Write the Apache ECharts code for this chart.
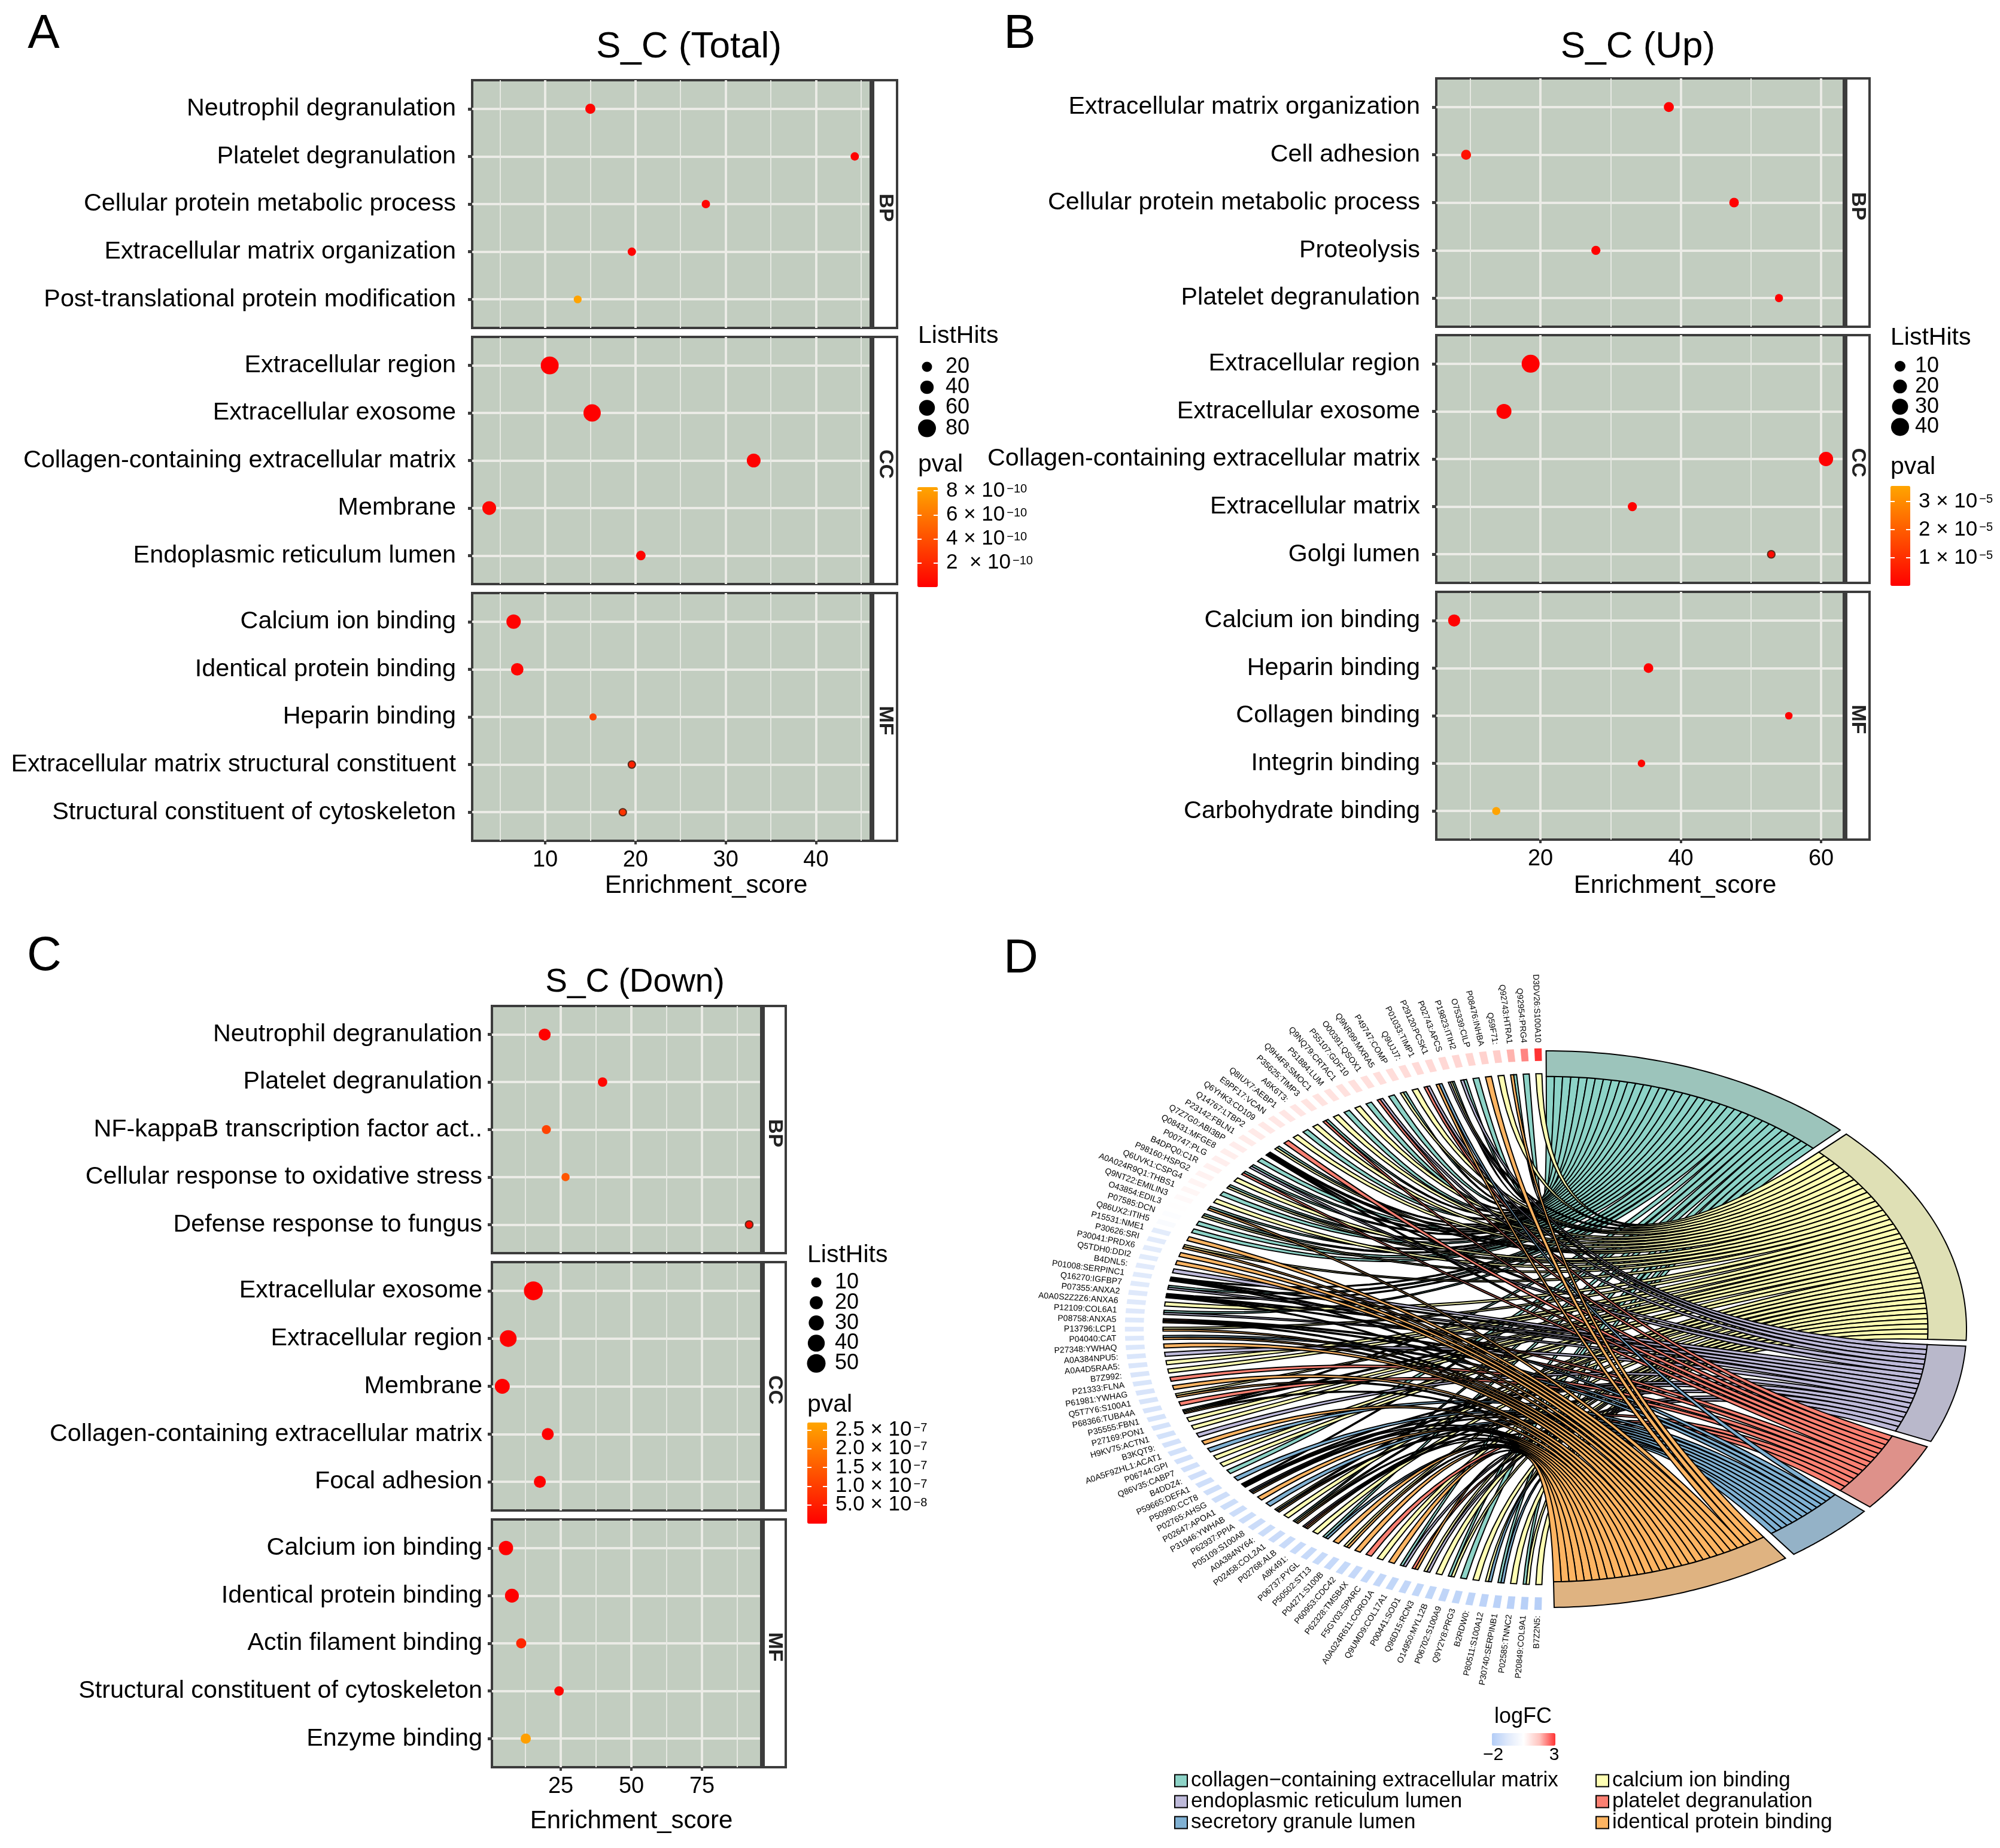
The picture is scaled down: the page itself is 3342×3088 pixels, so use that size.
<!DOCTYPE html>
<html><head><meta charset="utf-8">
<style>html,body{margin:0;padding:0;background:#fff}#c{width:3342px;height:3088px}</style>
<script src="https://cdn.jsdelivr.net/npm/echarts@6/dist/echarts.min.js"></script>
</head><body><div id="c"></div>
<script>
// ---------- Panel A ----------
const A_terms = ['Neutrophil degranulation','Platelet degranulation','Cellular protein metabolic process','Extracellular matrix organization','Post-translational protein modification','Extracellular region','Extracellular exosome','Collagen-containing extracellular matrix','Membrane','Endoplasmic reticulum lumen','Calcium ion binding','Identical protein binding','Heparin binding','Extracellular matrix structural constituent','Structural constituent of cytoskeleton'];
const A_score = [15.0,44.3,27.8,19.6,13.6,10.5,15.2,33.1,3.8,20.6,6.5,6.9,15.3,19.6,18.6];
const A_hits  = [20,12,12,12,10,80,74,43,43,17,48,34,8,8,8];
const A_pval  = [2e-11,1e-11,2e-11,1e-11,8.2e-10,1e-12,2e-12,1e-12,3e-11,2e-11,1e-11,2e-11,3.2e-10,1.6e-10,2.6e-10];
const A_rim   = ['Extracellular matrix structural constituent','Structural constituent of cytoskeleton'];
const A_ticks = [10,20,30,40], A_minor = [5,15,25,35,45];
const A_hitLegend = [20,40,60,80];
const A_pTicks = [2e-10,4e-10,6e-10,8e-10];
const A_pLabels = ['2  × 10','4 × 10','6 × 10','8 × 10'], A_pExp = '−10';
// ---------- Panel B ----------
const B_terms = ['Extracellular matrix organization','Cell adhesion','Cellular protein metabolic process','Proteolysis','Platelet degranulation','Extracellular region','Extracellular exosome','Collagen-containing extracellular matrix','Extracellular matrix','Golgi lumen','Calcium ion binding','Heparin binding','Collagen binding','Integrin binding','Carbohydrate binding'];
const B_score = [38.3,9.4,47.6,27.9,54.0,18.6,14.8,60.7,33.1,52.9,7.7,35.4,55.4,34.4,13.7];
const B_hits  = [8,8,7,6,4,40,25,22,6,3,14,7,3,3,4];
const B_pval  = [1e-7,4e-6,1e-7,5e-7,1e-7,1e-9,1e-8,1e-10,2e-7,2e-6,3e-7,1e-7,2e-7,1e-6,3.5e-5];
const B_rim   = ['Golgi lumen'];
const B_ticks = [20,40,60], B_minor = [10,30,50];
const B_hitLegend = [10,20,30,40];
const B_pTicks = [1e-5,2e-5,3e-5];
const B_pLabels = ['1 × 10','2 × 10','3 × 10'], B_pExp = '−5';
// ---------- Panel C ----------
const C_terms = ['Neutrophil degranulation','Platelet degranulation','NF-kappaB transcription factor act..','Cellular response to oxidative stress','Defense response to fungus','Extracellular exosome','Extracellular region','Membrane','Collagen-containing extracellular matrix','Focal adhesion','Calcium ion binding','Identical protein binding','Actin filament binding','Structural constituent of cytoskeleton','Enzyme binding'];
const C_score = [19.3,39.8,19.9,26.7,91.7,15.3,6.4,4.3,20.4,17.6,5.6,7.7,11.0,24.4,12.6];
const C_hits  = [16,8,7,5,4,52,39,29,16,16,26,24,10,8,10];
const C_pval  = [1e-9,1e-8,1.1e-7,1.4e-7,2e-8,1e-10,1e-9,1e-9,1e-9,3e-9,1e-9,1e-9,6e-8,1e-8,2.6e-7];
const C_rim   = ['Defense response to fungus'];
const C_ticks = [25,50,75], C_minor = [12.5,37.5,62.5,87.5];
const C_hitLegend = [10,20,30,40,50];
const C_pTicks = [5e-8,1e-7,1.5e-7,2e-7,2.5e-7];
const C_pLabels = ['5.0 × 10','1.0 × 10','1.5 × 10','2.0 × 10','2.5 × 10'], C_pExps = ['−8','−7','−7','−7','−7'];
const facetNames = ['BP','CC','MF'];
// ---------- Panel D ----------
const chordTerms = ['collagen−containing extracellular matrix','calcium ion binding','endoplasmic reticulum lumen','platelet degranulation','secretory granule lumen','identical protein binding'];
const termLetters = ['T','Y','L','R','B','O'];
const genes = ['D3DV26:S100A10','Q92954:PRG4','Q92743:HTRA1','Q59F71:','P08476:INHBA','O75339:CILP','P19823:ITIH2','P02743:APCS','P29120:PCSK1','P01033:TIMP1','Q9UJJ7:','P49747:COMP','Q9NR99:MXRA5','O00391:QSOX1','P55107:GDF10','Q9NQ79:CRTAC1','P51884:LUM','Q9H4F8:SMOC1','P35625:TIMP3','A6K6T3:','Q8IUX7:AEBP1','E9PF17:VCAN','Q6YHK3:CD109','Q14767:LTBP2','P23142:FBLN1','Q7Z7G0:ABI3BP','Q08431:MFGE8','P00747:PLG','B4DPQ0:C1R','P98160:HSPG2','Q6UVK1:CSPG4','A0A024R9Q1:THBS1','Q9NT22:EMILIN3','O43854:EDIL3','P07585:DCN','Q86UX2:ITIH5','P15531:NME1','P30626:SRI','P30041:PRDX6','Q5TDH0:DDI2','B4DNL5:','P01008:SERPINC1','Q16270:IGFBP7','P07355:ANXA2','A0A0S2Z2Z6:ANXA6','P12109:COL6A1','P08758:ANXA5','P13796:LCP1','P04040:CAT','P27348:YWHAQ','A0A384NPU5:','A0A4D5RAA5:','B7Z992:','P21333:FLNA','P61981:YWHAG','Q5T7Y6:S100A1','P68366:TUBA4A','P35555:FBN1','P27169:PON1','H9KV75:ACTN1','B3KQT9:','A0A5F9ZHL1:ACAT1','P06744:GPI','Q86V35:CABP7','B4DDZ4:','P59665:DEFA1','P50990:CCT8','P02765:AHSG','P02647:APOA1','P31946:YWHAB','P62937:PPIA','P05109:S100A8','A0A384NY64:','P02458:COL2A1','P02768:ALB','A8K491:','P06737:PYGL','P50502:ST13','P04271:S100B','P60953:CDC42','P62328:TMSB4X','F5GY03:SPARC','A0A024R611:CORO1A','Q9UMD9:COL17A1','P00441:SOD1','Q96D15:RCN3','O14950:MYL12B','P06702:S100A9','Q9Y2Y8:PRG3','B2RDW0:','P80511:S100A12','P30740:SERPINB1','P02585:TNNC2','P20849:COL9A1','B7Z2N5:'];
const geneTerms = ['Y','T','TO','Y','O','T','TL','TYL','BO','LR','Y','TY','T','LR','T','Y','T','Y','TR','Y','T','Y','R','TY','TYLR','T','TL','TR','Y','TY','T','Y','TO','TY','T','T','O','YO','O','O','L','TLBO','TL','TLRO','Y','TL','RBO','YO','BO','O','L','Y','Y','R','O','YO','R','TYO','Y','Y','L','O','B','Y','Y','T','B','TLBO','LBO','O','B','YBO','Y','TYO','LRO','Y','TB','O','YO','O','R','Y','O','TL','RO','YL','Y','TY','T','Y','YB','TB','Y','TY','Y'];
const logFC = [3.0,2.3,1.9,1.55,1.45,1.4,1.36,1.33,1.3,1.28,1.25,1.22,1.2,1.18,1.16,1.14,1.12,1.1,1.08,1.05,1.03,1.0,0.98,0.95,0.92,0.9,0.87,0.85,0.82,0.78,0.74,0.7,0.62,0.52,0.4,0.25,
 -0.6,-0.62,-0.64,-0.66,-0.68,-0.7,-0.72,-0.74,-0.76,-0.78,-0.8,-0.82,-0.84,-0.86,-0.88,-0.9,-0.92,-0.94,-0.96,-0.98,-1.0,-1.02,-1.05,-1.08,-1.1,-1.12,-1.14,-1.16,-1.18,-1.2,-1.22,-1.24,-1.26,-1.28,-1.3,-1.32,-1.34,-1.36,-1.38,-1.4,-1.42,-1.44,-1.46,-1.48,-1.5,-1.52,-1.54,-1.56,-1.58,-1.6,-1.62,-1.64,-1.66,-1.68,-1.72,-1.76,-1.8,-1.85,-1.9];
const logFCTicks = ['−2','3'];

// ---------- styling and assembly ----------
const FONT = 'Liberation Sans';
const ribbonColors = ['#8dd3c7','#ffffb3','#bebada','#fb8072','#80b1d3','#fdb462'];
const termBarColors = ['#9cc4bb','#dfe0b5','#b9b8cb','#de918a','#94b2c7','#dfb381'];
const grid = [], xAxis = [], yAxis = [], series = [], visualMap = [], graphic = [];
const DARK = '#3c3c3c';
function txt(s, x, y, size, o) {
  o = o || {};
  graphic.push({type:'text', x, y, z:100, rotation:o.rot||0, silent:true, style:{text:s, fontSize:size, fontFamily:FONT, fontWeight:o.bold?'bold':'normal', fill:o.fill||'#000', align:o.align||'center', verticalAlign:'middle', textAlign:o.align||'center', textVerticalAlign:'middle'}});
}
function panel(cfg) {
  const scatterIdx = [];
  cfg.rows.forEach((r, f) => {
    const g = grid.length;
    grid.push({left:cfg.left, top:r[0], width:cfg.right-cfg.left, height:r[1]-r[0], show:true, backgroundColor:'#c2cdc0', borderColor:DARK, borderWidth:4});
    const last = f === 2;
    const xi = xAxis.length;
    xAxis.push({gridIndex:g, type:'value', position:'bottom', min:cfg.xmin, max:cfg.xmax, axisLine:{show:false, onZero:false},
      axisTick:{show:last, customValues:cfg.ticks, length:6, lineStyle:{color:DARK, width:4}},
      axisLabel:{show:last, customValues:cfg.ticks, fontSize:38, color:'#000', margin:14, fontFamily:FONT},
      splitLine:{show:true, lineStyle:{color:'#ebebe6', width:4}}});
    xAxis.push({gridIndex:g, type:'value', position:'bottom', min:cfg.xmin, max:cfg.xmax, axisLine:{show:false, onZero:false},
      axisTick:{show:false, customValues:cfg.minor}, axisLabel:{show:false},
      splitLine:{show:true, lineStyle:{color:'#e6e8e2', width:2}}});
    const yi = yAxis.length;
    const names = cfg.terms.slice(f*5, f*5+5);
    yAxis.push({gridIndex:g, type:'value', inverse:true, min:-0.6, max:4.6, axisLine:{show:false, onZero:false},
      axisTick:{show:true, customValues:[0,1,2,3,4], length:7, lineStyle:{color:DARK, width:5}},
      axisLabel:{customValues:[0,1,2,3,4], fontSize:41.3, color:'#000', margin:cfg.ylabMargin, fontFamily:FONT, padding:[0,0,10,0], formatter:v=>names[v]},
      splitLine:{show:true, lineStyle:{color:'#ebebe6', width:4}}});
    scatterIdx.push(series.length);
    series.push({type:'scatter', xAxisIndex:xi, yAxisIndex:yi, z:5, itemStyle:{opacity:1},
      symbolSize:v=>cfg.sz[0]*Math.sqrt(v[2])+cfg.sz[1],
      data:names.map((n,i)=>{
        const j=f*5+i, d={value:[cfg.score[j],i,cfg.hits[j],cfg.pval[j]]};
        if(cfg.rim.includes(n)) d.itemStyle={borderColor:'#5a2a1a',borderWidth:2,opacity:1};
        return d;
      })});
    // strip
    graphic.push({type:'rect', z:20, silent:true, shape:{x:cfg.right, y:r[0], width:cfg.stripRight-cfg.right, height:r[1]-r[0]}, style:{fill:'#fff', stroke:DARK, lineWidth:4}});
    graphic.push({type:'rect', z:21, silent:true, shape:{x:cfg.right-1, y:r[0], width:7, height:r[1]-r[0]}, style:{fill:DARK}});
    txt(facetNames[f], (cfg.right+6+cfg.stripRight)/2-1, (r[0]+r[1])/2+6, 34, {bold:true, rot:-Math.PI/2, fill:'#222'});
  });
  txt(cfg.title[0], cfg.title[1], cfg.title[2], cfg.title[3]);
  txt(cfg.letter[0], cfg.letter[1], cfg.letter[2], 80);
  txt('Enrichment_score', cfg.name[0], cfg.name[1], 42);
  // size legend
  const L = cfg.legend;
  txt('ListHits', L.x, L.titleY, 41, {align:'left'});
  const lg = grid.length, n = cfg.hitLegend.length, h = L.step*n;
  grid.push({left:L.cx-17, width:34, top:L.y0-L.step/2, height:h});
  const lx = xAxis.length;
  xAxis.push({gridIndex:lg, type:'value', min:0, max:1, show:false});
  const ly = yAxis.length;
  yAxis.push({gridIndex:lg, type:'category', inverse:true, position:'right', data:cfg.hitLegend.map(String),
    axisLine:{show:false}, axisTick:{show:false}, axisLabel:{interval:0, fontSize:36, color:'#000', margin:L.lab-(L.cx+17), fontFamily:FONT}});
  series.push({type:'scatter', xAxisIndex:lx, yAxisIndex:ly, itemStyle:{color:'#000', opacity:1},
    symbolSize:v=>cfg.sz[0]*Math.sqrt(v[2])+cfg.sz[1],
    data:cfg.hitLegend.map((v,i)=>[0.5,i,v])});
  // pval colour bar
  const P = cfg.pbar;
  txt('pval', L.x, P.titleY, 41, {align:'left'});
  visualMap.push({type:'continuous', seriesIndex:scatterIdx, dimension:3, min:0, max:P.max, calculable:false, hoverLink:false,
    inRange:{color:['#ff0000','#ffa500']}, left:P.x0, top:P.y0, itemWidth:P.x1-P.x0, itemHeight:P.y1-P.y0, padding:0, text:null, orient:'vertical'});
  const fmt = v => { const k = cfg.pTicks.findIndex(t=>Math.abs(t-v)<t*1e-6); return '{a|'+cfg.pLabels[k]+'}{b|'+(cfg.pExps?cfg.pExps[k]:cfg.pExp)+'}'; };
  // alternate labels sit on two overlaid axes so that tightly spaced labels all show
  [0,1].forEach(pass => {
    const sub = cfg.pTicks.filter((t,i)=>i%2===pass);
    const pg = grid.length;
    grid.push({left:P.x0, width:P.x1-P.x0, top:P.y0, height:P.y1-P.y0});
    const px = xAxis.length;
    xAxis.push({gridIndex:pg, type:'value', min:0, max:1, show:false});
    const right = yAxis.length;
    yAxis.push({gridIndex:pg, type:'value', min:0, max:P.max, position:'right', z:10, axisLine:{show:false, onZero:false}, splitLine:{show:false},
      axisTick:{show:true, inside:true, length:7, customValues:sub, lineStyle:{color:'#fff', width:2}},
      axisLabel:{customValues:sub, margin:14, formatter:fmt, color:'#000', showMinLabel:true, showMaxLabel:true, hideOverlap:false,
        rich:{a:{fontSize:35, color:'#000', fontFamily:FONT, lineHeight:26}, b:{fontSize:20, color:'#000', fontFamily:FONT, verticalAlign:'top', lineHeight:14, padding:[0,0,0,3]}}}});
    yAxis.push({gridIndex:pg, type:'value', min:0, max:P.max, position:'left', z:10, axisLine:{show:false, onZero:false}, splitLine:{show:false},
      axisTick:{show:true, inside:true, length:7, customValues:sub, lineStyle:{color:'#fff', width:2}},
      axisLabel:{show:false}});
    series.push({type:'scatter', xAxisIndex:px, yAxisIndex:right, data:[], silent:true});
  });
}
const rowsA=[[134,548],[563,976],[991,1405]], rowsB=[[131,546],[560,974],[989,1403]], rowsC=[[1681,2094],[2109,2524],[2539,2953]];
panel({terms:A_terms,score:A_score,hits:A_hits,pval:A_pval,rim:A_rim,ticks:A_ticks,minor:A_minor,hitLegend:A_hitLegend,pTicks:A_pTicks,pLabels:A_pLabels,pExp:A_pExp,
  left:789,right:1455,stripRight:1499,rows:rowsA,xmin:1.91,xmax:46.07,ylabMargin:27,sz:[2.9,4],
  title:['S_C (Total)',1151,79,62],letter:['A',73,58],name:[1180,1480],
  legend:{x:1534,titleY:562,cx:1549,lab:1580,y0:613,step:34.2},
  pbar:{titleY:777,x0:1533,x1:1567,y0:814,y1:981,max:8.3e-10}});
panel({terms:B_terms,score:B_score,hits:B_hits,pval:B_pval,rim:B_rim,ticks:B_ticks,minor:B_minor,hitLegend:B_hitLegend,pTicks:B_pTicks,pLabels:B_pLabels,pExp:B_pExp,
  left:2400,right:3081,stripRight:3124,rows:rowsB,xmin:5.15,xmax:63.24,ylabMargin:27,sz:[3.8,6],
  title:['S_C (Up)',2737,79,62],letter:['B',1704,58],name:[2799,1480],
  legend:{x:3159,titleY:565,cx:3175,lab:3200,y0:612,step:33.8},
  pbar:{titleY:781,x0:3159,x1:3192,y0:812,y1:979,max:3.55e-5}});
panel({terms:C_terms,score:C_score,hits:C_hits,pval:C_pval,rim:C_rim,ticks:C_ticks,minor:C_minor,hitLegend:C_hitLegend,pTicks:C_pTicks,pLabels:C_pLabels,pExps:C_pExps,
  left:822,right:1272,stripRight:1313,rows:rowsC,xmin:0.63,xmax:95.97,ylabMargin:16,sz:[3.58,5.7],
  title:['S_C (Down)',1061,1642,55],letter:['C',74,1599],name:[1055,3043],
  legend:{x:1349,titleY:2098,cx:1364,lab:1395,y0:2143,step:33.8},
  pbar:{titleY:2348,x0:1349,x1:1382,y0:2377,y1:2546,max:2.7e-7}});
txt('D', 1706, 1603, 80);

// chord: normalised unit circle laid out through a hidden cartesian grid (ellipse on screen)
const cx=2586, cy=2221, rx=700, ry=465, XR=1.07, YR=1.2;
const dg = grid.length;
grid.push({left:cx-XR*rx, width:2*XR*rx, top:cy-YR*ry, height:2*YR*ry});
const dx = xAxis.length, dy = yAxis.length;
xAxis.push({gridIndex:dg, type:'value', min:-XR, max:XR, show:false});
yAxis.push({gridIndex:dg, type:'value', min:-YR, max:YR, show:false});
const RAD=Math.PI/180, R_GENE=0.918, R_TERM=0.908;
const gTh = i => 1.3 + i*(177.4/(genes.length-1));
const G_W = 0.9;
const ptG = (th,r)=>[-Math.sin(th*RAD)*r, Math.cos(th*RAD)*r];
const ptT = (th,r)=>[ Math.sin(th*RAD)*r, Math.cos(th*RAD)*r];
// term arcs (degrees clockwise from top)
const termArcs = [[-0.2,44.3],[45.5,92.3],[93.5,113.8],[115,129.7],[130.9,144],[145.4,179.1]];
const counts = termLetters.map(l=>geneTerms.filter(s=>s.includes(l)).length);
// ribbons, one series per term
const used = termLetters.map(()=>0);
const ribbonsByTerm = termLetters.map(()=>[]);
geneTerms.forEach((s,i)=>{
  const k=s.length;
  termLetters.forEach((l,t)=>{
    const pos=s.indexOf(l); if(pos<0) return;
    const g0=gTh(i)-G_W/2+G_W*pos/k, g1=g0+G_W/k;
    const per=(termArcs[t][1]-termArcs[t][0])/counts[t];
    const t0=termArcs[t][0]+used[t]*per, t1=t0+per;
    used[t]++;
    ribbonsByTerm[t].push([g0,g1,t0,t1]);
  });
});
const curve=(P0,P1,api)=>{ const o=[]; for(let q=0;q<=28;q++){const t=q/28,a=(1-t)*(1-t),b=t*t; o.push(api.coord([a*P0[0]+b*P1[0],a*P0[1]+b*P1[1]]));} return o; };
ribbonsByTerm.forEach((arr,t)=>{
  series.push({type:'custom', name:chordTerms[t], coordinateSystem:'cartesian2d', xAxisIndex:dx, yAxisIndex:dy, clip:false, silent:true, z:3+t,
    itemStyle:{color:ribbonColors[t]}, data:arr,
    renderItem:(p,api)=>{
      const [g0,g1,t0,t1]=[api.value(0),api.value(1),api.value(2),api.value(3)];
      const a=curve(ptG(g0,R_GENE),ptT(t0,R_TERM),api), b=curve(ptT(t1,R_TERM),ptG(g1,R_GENE),api);
      return {type:'polygon', shape:{points:a.concat(b)}, style:{fill:ribbonColors[t], stroke:'#000', lineWidth:2}};
    }});
});
// term bars
series.push({type:'custom', coordinateSystem:'cartesian2d', xAxisIndex:dx, yAxisIndex:dy, clip:false, silent:true, z:12,
  data:termArcs,
  renderItem:(p,api)=>{
    const a0=api.value(0), a1=api.value(1), pts=[];
    for(let q=0;q<=50;q++) pts.push(api.coord(ptT(a0+(a1-a0)*q/50,1.0)));
    for(let q=50;q>=0;q--) pts.push(api.coord(ptT(a0+(a1-a0)*q/50,R_TERM)));
    return {type:'polygon', shape:{points:pts}, style:{fill:termBarColors[p.dataIndex], stroke:'#000', lineWidth:2}};
  }});
// gene logFC bars
const geneBarIdx = series.length;
series.push({type:'custom', coordinateSystem:'cartesian2d', xAxisIndex:dx, yAxisIndex:dy, clip:false, silent:true, z:12,
  data:logFC.map(v=>[v]),
  renderItem:(p,api)=>{
    const th=gTh(p.dataIndex), w=G_W*0.55;
    const pts=[ptG(th-w,0.964),ptG(th-w,1.009),ptG(th+w,1.009),ptG(th+w,0.964)].map(q=>api.coord(q));
    return {type:'polygon', shape:{points:pts}, style:{fill:api.visual('color')}};
  }});
visualMap.push({type:'continuous', seriesIndex:[geneBarIdx], dimension:0, min:-2, max:3, calculable:false, hoverLink:false, orient:'horizontal',
  inRange:{color:['#b3cdf7','#dfe9fb','#ffffff','#ffc4bf','#ff3333']}, left:2493, top:2896, itemWidth:21, itemHeight:106, padding:0, text:null});
// gene labels
series.push({type:'custom', coordinateSystem:'cartesian2d', xAxisIndex:dx, yAxisIndex:dy, clip:false, silent:true, z:13,
  data:genes.map((g,i)=>[i]),
  renderItem:(p,api)=>{
    const th=gTh(p.dataIndex)*RAD, c=api.coord(ptG(gTh(p.dataIndex),1.03));
    const rot=-Math.atan2(ry*Math.cos(th), rx*Math.sin(th));
    return {type:'text', x:c[0], y:c[1], rotation:rot,
      style:{text:genes[p.dataIndex], fontSize:14, fontFamily:FONT, fill:'#000', align:'right', verticalAlign:'middle', textAlign:'right', textVerticalAlign:'middle'}};
  }});
txt('logFC', 2545, 2869, 36);
txt(logFCTicks[0], 2495, 2933, 30);
txt(logFCTicks[1], 2597, 2933, 30);
const legendBase={orient:'vertical', icon:'rect', itemWidth:21, itemHeight:20, itemGap:0, selectedMode:false, padding:0,
  itemStyle:{borderColor:'#000', borderWidth:2}, textStyle:{fontSize:35, color:'#000', fontFamily:FONT, lineHeight:35, padding:[0,0,0,1]}};
const legend=[
  Object.assign({},legendBase,{left:1962, top:2958, data:[chordTerms[0],chordTerms[2],chordTerms[4]]}),
  Object.assign({},legendBase,{left:2666, top:2958, data:[chordTerms[1],chordTerms[3],chordTerms[5]]})
];
const chart = echarts.init(document.getElementById('c'), null, {renderer:'canvas', width:3342, height:3088});
chart.setOption({animation:false, backgroundColor:'#fff', textStyle:{fontFamily:FONT}, tooltip:{show:false}, grid, xAxis, yAxis, series, visualMap, legend, graphic:{elements:graphic}});
</script></body></html>
